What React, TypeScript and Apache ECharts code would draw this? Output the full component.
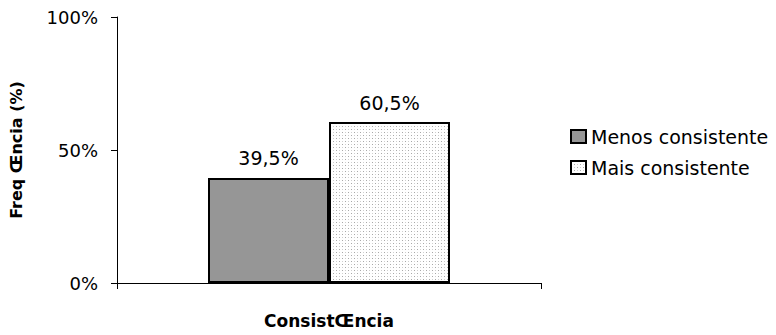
import React, { useEffect, useRef } from "react";
import * as echarts from "echarts";

const categories = ["ConsistŒncia"];
const seriesNames = ["Menos consistente", "Mais consistente"];
const menosValues = [39.5];
const maisValues = [60.5];
const yTicks = [0, 50, 100];

function makeDotPattern(): string {
  const c = document.createElement("canvas");
  c.width = 6;
  c.height = 6;
  const ctx = c.getContext("2d")!;
  ctx.fillStyle = "#ffffff";
  ctx.fillRect(0, 0, 6, 6);
  ctx.fillStyle = "#a8a8a8";
  ctx.fillRect(0, 0, 1, 1);
  ctx.fillRect(3, 3, 1, 1);
  ctx.fillStyle = "#d0d0d0";
  ctx.fillRect(3, 0, 1, 1);
  ctx.fillRect(0, 3, 1, 1);
  return c.toDataURL();
}

const fmt = (v: number) => v.toFixed(1).replace(".", ",") + "%";

export default function App() {
  const ref = useRef<HTMLDivElement>(null);
  useEffect(() => {
    if (!ref.current) return;
    const chart = echarts.init(ref.current, undefined, { renderer: "svg" });
    const pattern = { image: makeDotPattern(), repeat: "repeat" };
    const labelStyle = {
      show: true,
      position: "top",
      distance: 10,
      fontFamily: "DejaVu Sans",
      fontSize: 19,
      color: "#000",
      formatter: (p: any) => fmt(p.value),
    };
    chart.setOption({
      animation: false,
      backgroundColor: "#fff",
      grid: {
        left: 117,
        right: 235,
        top: 17,
        bottom: 52,
        containLabel: false,
        outerBoundsMode: "none",
      },
      legend: {
        orient: "vertical",
        left: 565,
        top: 122,
        padding: 5,
        itemWidth: 15,
        itemHeight: 13,
        itemGap: 12,
        icon: "rect",
        textStyle: { fontFamily: "DejaVu Sans", fontSize: 19, color: "#000" },
        data: seriesNames,
      },
      xAxis: {
        type: "category",
        data: categories,
        boundaryGap: true,
        axisLine: { lineStyle: { color: "#000", width: 1 } },
        axisTick: { show: true, length: 6, lineStyle: { color: "#000" } },
        axisLabel: { show: false },
        name: categories[0],
        nameLocation: "middle",
        nameGap: 29,
        nameTextStyle: {
          fontFamily: "DejaVu Sans",
          fontWeight: "bold",
          fontSize: 17,
          color: "#000",
        },
      },
      yAxis: {
        type: "value",
        min: yTicks[0],
        max: yTicks[yTicks.length - 1],
        interval: yTicks[1] - yTicks[0],
        axisLine: { show: true, lineStyle: { color: "#000", width: 1 } },
        axisTick: { show: true, length: 6, lineStyle: { color: "#000" } },
        splitLine: { show: false },
        axisLabel: {
          formatter: "{value}%",
          margin: 19,
          fontFamily: "DejaVu Sans",
          fontSize: 18,
          color: "#000",
        },
        name: "Freq Œncia (%)",
        nameLocation: "middle",
        nameRotate: 90,
        nameGap: 93,
        nameTextStyle: {
          fontFamily: "DejaVu Sans",
          fontWeight: "bold",
          fontSize: 16,
          color: "#000",
        },
      },
      series: [
        {
          name: seriesNames[0],
          type: "bar",
          data: menosValues,
          barWidth: 121,
          barGap: "0%",
          itemStyle: { color: "#969696", borderColor: "#000", borderWidth: 2 },
          label: labelStyle,
        },
        {
          name: seriesNames[1],
          type: "bar",
          data: maisValues,
          barWidth: 121,
          barGap: "0%",
          itemStyle: { color: pattern, borderColor: "#000", borderWidth: 2 },
          label: labelStyle,
        },
      ],
    });
    return () => chart.dispose();
  }, []);
  return <div ref={ref} style={{ width: 776, height: 335, margin: -8 }} />;
}
